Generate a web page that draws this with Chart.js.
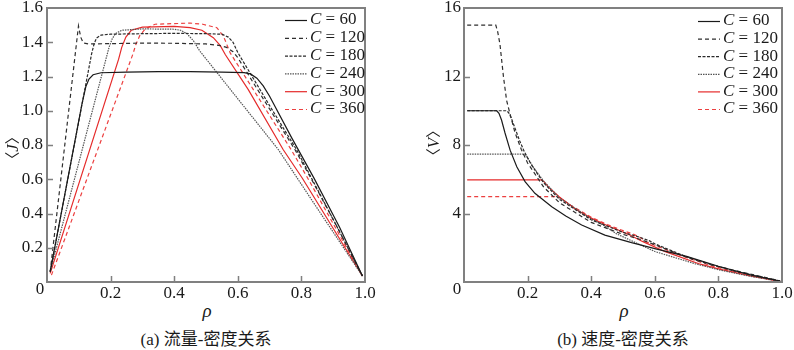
<!DOCTYPE html>
<html>
<head>
<meta charset="utf-8">
<script src="https://cdn.jsdelivr.net/npm/chart.js@4.4.1/dist/chart.umd.min.js"></script>
<style>
  body { margin: 0; background: #fff; }
  #wrap { position: relative; width: 794px; height: 350px; font-family: 'Liberation Serif', 'Noto Sans CJK SC', serif; color: #1a1a1a; }
  canvas { position: absolute; top: 0; }
  #flow-chart { left: 0; }
  #speed-chart { left: 400px; }
  .txt { position: absolute; white-space: nowrap; line-height: 1; }
  .ytitle { font-size: 17px; transform: translate(-50%, -50%) rotate(-90deg); }
  .ytitle span { font-family: 'Noto Sans CJK SC', sans-serif; font-size: 15px; }
  .xtitle { font-size: 19px; font-style: italic; transform: translateX(-50%); top: 301px; }
  .caption { font-size: 17px; transform: translate(-50%, -50%); top: 339px; }
  .corner { font-size: 17px; transform: translate(-50%, -50%); top: 288px; }
</style>
</head>
<body>
<div id="wrap">
  <canvas id="flow-chart" width="400" height="300"></canvas>
  <canvas id="speed-chart" width="394" height="300"></canvas>
  <div class="txt ytitle" style="left:12px; top:148px"><span>〈</span><i>J</i><span>〉</span></div>
  <div class="txt ytitle" style="left:433px; top:143px"><span>〈</span><i>V</i><span>〉</span></div>
  <div class="txt corner" style="left:40px">0</div>
  <div class="txt corner" style="left:457px">0</div>
  <div class="txt xtitle" style="left:207px">ρ</div>
  <div class="txt xtitle" style="left:624px">ρ</div>
  <div class="txt caption" style="left:206px">(a) 流量-密度关系</div>
  <div class="txt caption" style="left:623px">(b) 速度-密度关系</div>
</div>
<script>
const capacities = [60, 120, 180, 240, 300, 360];
const densityTicks = [0, 0.2, 0.4, 0.6, 0.8, 1.0];
const flowTicks = [0, 0.2, 0.4, 0.6, 0.8, 1.0, 1.2, 1.4, 1.6];
const speedTicks = [0, 4, 8, 12, 16];

// (a) flow vs density
const flowRho60 = [0.01, 0.11, 0.122, 0.132, 0.145, 0.17, 0.25, 0.35, 0.45, 0.55, 0.62, 0.64, 0.66, 0.68, 0.70, 0.77, 0.84, 0.92, 0.992];
const flow60 = [0.06, 1.04, 1.14, 1.185, 1.21, 1.222, 1.225, 1.228, 1.228, 1.226, 1.223, 1.215, 1.19, 1.145, 1.085, 0.84, 0.605, 0.32, 0.035];
const flowRho120 = [0.01, 0.099, 0.106, 0.114, 0.13, 0.2, 0.3, 0.4, 0.5, 0.54, 0.565, 0.585, 0.60, 0.70, 0.78, 0.83, 0.91, 0.992];
const flow120 = [0.06, 1.495, 1.43, 1.396, 1.39, 1.392, 1.395, 1.394, 1.39, 1.382, 1.37, 1.345, 1.31, 1.01, 0.772, 0.606, 0.33, 0.035];
const flowRho180 = [0.01, 0.14, 0.148, 0.156, 0.17, 0.2, 0.3, 0.4, 0.5, 0.55, 0.57, 0.585, 0.60, 0.70, 0.785, 0.832, 0.91, 0.992];
const flow180 = [0.06, 1.33, 1.39, 1.425, 1.442, 1.447, 1.45, 1.452, 1.45, 1.447, 1.43, 1.4, 1.34, 1.03, 0.772, 0.606, 0.33, 0.035];
const flowRho240 = [0.01, 0.195, 0.205, 0.215, 0.235, 0.3, 0.4, 0.42, 0.44, 0.46, 0.48, 0.6, 0.728, 0.85, 0.992];
const flow240 = [0.06, 1.37, 1.42, 1.45, 1.47, 1.478, 1.476, 1.47, 1.45, 1.41, 1.35, 1.07, 0.772, 0.43, 0.035];
const flowRho300 = [0.01, 0.225, 0.235, 0.248, 0.265, 0.3, 0.4, 0.45, 0.487, 0.523, 0.545, 0.561, 0.633, 0.743, 0.803, 0.992];
const flow300 = [0.05, 1.3, 1.37, 1.43, 1.47, 1.488, 1.493, 1.485, 1.47, 1.427, 1.38, 1.327, 1.123, 0.772, 0.606, 0.035];
const flowRho360 = [0.014, 0.27, 0.28, 0.292, 0.31, 0.34, 0.45, 0.49, 0.534, 0.555, 0.576, 0.768, 0.82, 0.992];
const flow360 = [0.04, 1.33, 1.39, 1.44, 1.48, 1.505, 1.512, 1.505, 1.485, 1.435, 1.338, 0.772, 0.606, 0.035];

// (b) speed vs density
const speedRho60 = [0.01, 0.103, 0.11, 0.118, 0.129, 0.145, 0.166, 0.192, 0.223, 0.276, 0.32, 0.37, 0.443, 0.527, 0.6, 0.7, 0.8, 0.9, 0.994];
const speed60 = [10, 10, 9.85, 9.46, 8.7, 7.7, 6.73, 5.86, 5.18, 4.4, 3.85, 3.33, 2.74, 2.3, 1.95, 1.5, 0.92, 0.42, 0.06];
const speedRho120 = [0.01, 0.1, 0.106, 0.113, 0.124, 0.134, 0.145, 0.16, 0.18, 0.2, 0.25, 0.3, 0.4, 0.5, 0.55, 0.6, 0.7, 0.78, 0.85, 0.92, 0.994];
const speed120 = [15, 15, 14.6, 13.9, 12.0, 10.6, 9.8, 8.75, 7.75, 6.95, 5.56, 4.63, 3.48, 2.78, 2.51, 2.18, 1.44, 0.99, 0.68, 0.38, 0.06];
const speedRho180 = [0.01, 0.134, 0.14, 0.148, 0.16, 0.175, 0.19, 0.21, 0.25, 0.3, 0.4, 0.5, 0.55, 0.585, 0.6, 0.7, 0.785, 0.85, 0.92, 0.994];
const speed180 = [10, 10, 9.9, 9.6, 9.0, 8.25, 7.6, 6.9, 5.8, 4.83, 3.63, 2.9, 2.63, 2.39, 2.23, 1.47, 0.98, 0.64, 0.36, 0.06];
const speedRho240 = [0.01, 0.19, 0.197, 0.205, 0.22, 0.25, 0.3, 0.4, 0.44, 0.48, 0.6, 0.728, 0.8, 0.9, 0.994];
const speed240 = [7.47, 7.47, 7.35, 7.1, 6.65, 5.9, 4.92, 3.69, 3.3, 2.81, 1.78, 1.06, 0.72, 0.33, 0.04];
const speedRho300 = [0.01, 0.244, 0.252, 0.265, 0.3, 0.35, 0.4, 0.45, 0.487, 0.523, 0.561, 0.633, 0.743, 0.803, 0.9, 0.994];
const speed300 = [5.96, 5.96, 5.85, 5.55, 4.96, 4.26, 3.73, 3.3, 3.02, 2.73, 2.37, 1.77, 1.04, 0.75, 0.36, 0.04];
const speedRho360 = [0.01, 0.286, 0.3, 0.34, 0.4, 0.45, 0.49, 0.534, 0.555, 0.576, 0.68, 0.768, 0.82, 0.9, 0.994];
const speed360 = [4.98, 4.98, 4.93, 4.43, 3.78, 3.36, 3.07, 2.78, 2.59, 2.32, 1.56, 1.0, 0.74, 0.4, 0.04];

const flowSeries = [[flowRho60, flow60], [flowRho120, flow120], [flowRho180, flow180],
                    [flowRho240, flow240], [flowRho300, flow300], [flowRho360, flow360]];
const speedSeries = [[speedRho60, speed60], [speedRho120, speed120], [speedRho180, speed180],
                     [speedRho240, speed240], [speedRho300, speed300], [speedRho360, speed360]];

const seriesStyle = [
    { color: '#1a1a1a', dash: [] },
    { color: '#2e2e2e', dash: [4, 3] },
    { color: '#2a2a2a', dash: [3, 1.5] },
    { color: '#555555', dash: [1.5, 1] },
    { color: '#e52a2a', dash: [] },
    { color: '#ec4040', dash: [4, 3] }
];

const AXIS_COLOR = '#808080';
const FONT = "'Liberation Serif', serif";

function makeDatasets(series) {
    return series.map(([xs, ys], i) => ({
        label: 'C = ' + capacities[i],
        data: xs.map((x, k) => ({ x: x, y: ys[k] })),
        borderColor: seriesStyle[i].color,
        borderDash: seriesStyle[i].dash,
        borderWidth: 1.2,
        pointRadius: 0,
        tension: 0,
        fill: false
    }));
}

// box, inward ticks and a legend with italic C
const framePlugin = {
    id: 'frame',
    afterDatasetsDraw(chart, args, opts) {
        const { ctx, chartArea: a, scales: { x, y } } = chart;
        ctx.save();
        ctx.setLineDash([]);
        ctx.strokeStyle = AXIS_COLOR;
        ctx.lineWidth = 2;
        ctx.strokeRect(a.left, a.top, a.right - a.left, a.bottom - a.top);

        ctx.lineWidth = 1.5;
        ctx.beginPath();
        x.ticks.forEach(t => {
            if (t.value <= x.min || t.value >= x.max) return;
            const px = Math.round(x.getPixelForValue(t.value)) + 0.5;
            ctx.moveTo(px, a.bottom);
            ctx.lineTo(px, a.bottom - 6);
        });
        y.ticks.forEach(t => {
            if (t.value <= y.min || t.value >= y.max) return;
            const py = Math.round(y.getPixelForValue(t.value)) + 0.5;
            ctx.moveTo(a.left, py);
            ctx.lineTo(a.left + 6, py);
        });
        ctx.stroke();

        ctx.textBaseline = 'middle';
        ctx.fillStyle = '#1a1a1a';
        chart.data.datasets.forEach((ds, i) => {
            const ly = opts.top + i * opts.step;
            ctx.strokeStyle = ds.borderColor;
            ctx.lineWidth = 1.2;
            ctx.setLineDash(ds.borderDash);
            ctx.beginPath();
            ctx.moveTo(opts.left, ly + 0.5);
            ctx.lineTo(opts.left + 22, ly + 0.5);
            ctx.stroke();
            ctx.font = 'italic 17px ' + FONT;
            ctx.fillText('C', opts.left + 25, ly);
            const cw = ctx.measureText('C').width;
            ctx.font = '17px ' + FONT;
            ctx.fillText(ds.label.slice(1), opts.left + 25 + cw, ly);
        });
        ctx.restore();
    }
};

function makeChart(id, series, yTicks, yMax, yLabel, geom) {
    const el = document.getElementById(id);
    return new Chart(el.getContext('2d'), {
        type: 'line',
        data: { datasets: makeDatasets(series) },
        plugins: [framePlugin],
        options: {
            responsive: false,
            animation: false,
            devicePixelRatio: 1,
            layout: { padding: { top: 8, right: geom.right, left: 0, bottom: 0 } },
            plugins: {
                legend: { display: false },
                tooltip: { enabled: false },
                frame: geom.legend
            },
            scales: {
                x: {
                    type: 'linear',
                    min: 0,
                    max: 1,
                    afterBuildTicks: s => { s.ticks = densityTicks.map(v => ({ value: v })); },
                    afterFit: s => { s.height = 18; s.paddingLeft = 0; s.paddingRight = 0; },
                    grid: { display: false, drawTicks: false },
                    border: { display: false },
                    ticks: {
                        padding: 3,
                        color: '#1a1a1a',
                        font: { family: FONT, size: 17, lineHeight: 1 },
                        maxRotation: 0,
                        callback: v => v === 0 ? '' : v.toFixed(1)
                    }
                },
                y: {
                    min: 0,
                    max: yMax,
                    afterBuildTicks: s => { s.ticks = yTicks.map(v => ({ value: v })); },
                    afterFit: s => { s.width = geom.left; s.paddingTop = 0; s.paddingBottom = 0; },
                    grid: { display: false, drawTicks: false },
                    border: { display: false },
                    ticks: {
                        padding: geom.tickPad,
                        color: '#1a1a1a',
                        font: { family: FONT, size: 17, lineHeight: 1 },
                        callback: yLabel
                    }
                }
            }
        }
    });
}

// the corner "0" is placed as page text, like in the figure
makeChart('flow-chart', flowSeries, flowTicks, 1.6,
    v => v === 0 ? '' : v.toFixed(1),
    { left: 47, right: 35, tickPad: 4, legend: { left: 285, top: 20, step: 17.8 } });

makeChart('speed-chart', speedSeries, speedTicks, 16,
    v => v === 0 ? '' : String(v),
    { left: 64, right: 12, tickPad: 3, legend: { left: 298, top: 21, step: 17.6 } });
</script>
</body>
</html>
